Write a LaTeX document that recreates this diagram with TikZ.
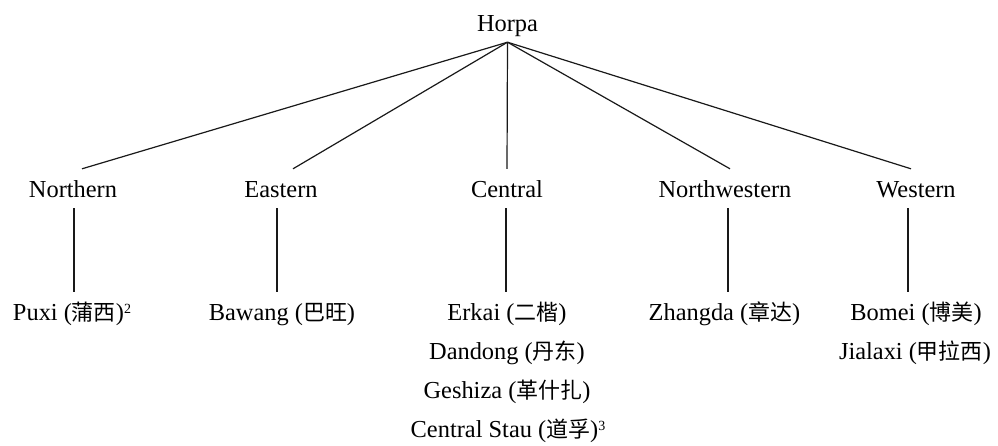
\documentclass[tikz,border=0pt]{standalone}
\usepackage{fontspec}
\setmainfont{Liberation Serif}
\newfontfamily\cjkfont[Scale=0.9]{Noto Sans CJK SC}
\newcommand\zh[1]{{\cjkfont #1}}
\newcommand\mysup[1]{\raisebox{7pt}{\fontsize{14}{14}\selectfont #1}}
\begin{document}
\begin{tikzpicture}[x=1pt,y=-1pt,
  lbl/.style={font=\fontsize{24.4}{28}\selectfont, inner xsep=0pt, inner ysep=11pt,
              text height=17pt, text depth=0pt, anchor=base, text=black},
  edge/.style={line width=1.2pt, draw=black!90}]
\useasboundingbox[fill=white] (0,0) rectangle (998,445);
% root
\node[lbl] (horpa) at (507.5,31) {Horpa};
% branches
\node[lbl] (nor) at (73,197) {Northern};
\node[lbl] (eas) at (281,197) {Eastern};
\node[lbl] (cen) at (507,197) {Central};
\node[lbl] (nwe) at (725,197) {Northwestern};
\node[lbl] (wes) at (916,197) {Western};
% leaves
\node[lbl] (puxi) at (72,320) {Puxi (\zh{蒲西})\mysup{2}};
\node[lbl] (bawang) at (282,320) {Bawang (\zh{巴旺})};
\node[lbl] (erkai) at (507,320) {Erkai (\zh{二楷})};
\node[lbl] (dandong) at (507,359) {Dandong (\zh{丹东})};
\node[lbl] (geshiza) at (507,398) {Geshiza (\zh{革什扎})};
\node[lbl] (stau) at (508,437) {Central Stau (\zh{道孚})\mysup{3}};
\node[lbl] (zhangda) at (724.5,320) {Zhangda (\zh{章达})};
\node[lbl] (bomei) at (916,320) {Bomei (\zh{博美})};
\node[lbl] (jialaxi) at (915,359) {Jialaxi (\zh{甲拉西})};
% connectors root -> branches
\draw[edge] (horpa.south) -- ([xshift=9pt]nor.north);
\draw[edge] (horpa.south) -- ([xshift=12pt]eas.north);
\draw[edge] (horpa.south) -- (cen.north);
\draw[edge] (horpa.south) -- ([xshift=5pt]nwe.north);
\draw[edge] (horpa.south) -- ([xshift=-5pt]wes.north);
% connectors branches -> leaves
\draw[edge] ([xshift=1pt]nor.south) -- ([xshift=2pt]puxi.north);
\draw[edge] ([xshift=-4pt]eas.south) -- ([xshift=-5pt]bawang.north);
\draw[edge] ([xshift=-1pt]cen.south) -- ([xshift=-1pt]erkai.north);
\draw[edge] ([xshift=3pt]nwe.south) -- ([xshift=3.5pt]zhangda.north);
\draw[edge] ([xshift=-8pt]wes.south) -- ([xshift=-8pt]bomei.north);
\end{tikzpicture}
\end{document}
